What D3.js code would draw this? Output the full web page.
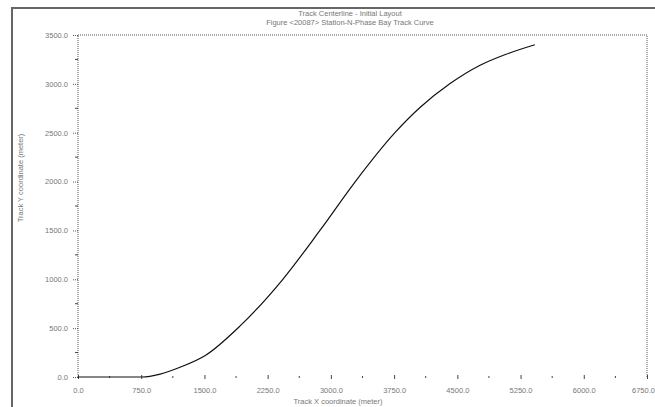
<!DOCTYPE html>
<html>
<head>
<meta charset="utf-8">
<script src="https://cdn.jsdelivr.net/npm/d3@7"></script>
<style>
  body { margin: 0; background: #fff; }
  svg { display: block; }
  text { font-family: "Liberation Sans", Arial, sans-serif; }
</style>
</head>
<body>
<div id="chart"></div>
<script>
// centerline points (meter)
var trackX = [0, 380, 760, 975, 1210, 1510, 1920, 2430, 2870, 3290, 3760, 4060, 4410, 4770, 5070, 5420];
var trackY = [0, 0, 0, 30, 100, 220, 520, 1000, 1500, 2000, 2500, 2760, 3000, 3190, 3300, 3400];

var xTicks = [0, 750, 1500, 2250, 3000, 3750, 4500, 5250, 6000, 6750];
var yTicks = [0, 500, 1000, 1500, 2000, 2500, 3000, 3500];

var titleLines = ["Track Centerline - Initial Layout", "Figure <20087> Station-N-Phase Bay Track Curve"];
var xTitle = "Track X coordinate (meter)";
var yTitle = "Track Y coordinate (meter)";

var width = 655, height = 407;
var plotL = 78, plotR = 647, plotT = 35, plotB = 377;

var svg = d3.select("#chart").append("svg")
    .attr("width", width)
    .attr("height", height);

// outer frame (only top and left edges show in the window)
svg.append("path")
    .attr("d", "M12," + height + "V8H" + width)
    .attr("fill", "none")
    .attr("stroke", "#666")
    .attr("stroke-width", 2);

var x = d3.scaleLinear().domain([0, 6750]).range([plotL, plotR]);
var y = d3.scaleLinear().domain([0, 3500]).range([plotB, plotT]);

var fmt = d => d.toFixed(1);

// dotted plot box: left, top, right
svg.append("path")
    .attr("d", "M" + plotL + "," + plotB + "V" + plotT + "H" + plotR + "V" + plotB)
    .attr("fill", "none")
    .attr("stroke", "#555")
    .attr("stroke-dasharray", "1,1");

// x axis
var xAxis = svg.append("g")
    .attr("transform", "translate(0," + plotB + ")")
    .call(d3.axisBottom(x).tickValues(xTicks).tickFormat(fmt).tickSize(3).tickPadding(8));
xAxis.select(".domain").remove();
xAxis.selectAll(".tick line").attr("stroke", "#444").attr("y1", -2).attr("y2", 2);
xAxis.selectAll("text").attr("fill", "#777").style("font-size", "7.5px");
// keep the last label inside the window
xAxis.selectAll(".tick text").filter(d => d === 6750).attr("dx", -4);

// minor x ticks
svg.selectAll(".xminor")
    .data(xTicks.slice(0, -1).map(d => d + 375))
    .enter().append("line")
    .attr("x1", d => x(d)).attr("x2", d => x(d))
    .attr("y1", plotB - 1).attr("y2", plotB + 1)
    .attr("stroke", "#444");

// y axis
var yAxis = svg.append("g")
    .attr("transform", "translate(" + plotL + ",0)")
    .call(d3.axisLeft(y).tickValues(yTicks).tickFormat(fmt).tickSize(6).tickPadding(4));
yAxis.select(".domain").remove();
yAxis.selectAll(".tick line").attr("stroke", "#555").attr("stroke-dasharray", "1,1");
yAxis.selectAll("text").attr("fill", "#777").style("font-size", "7.5px");

// minor y ticks
svg.selectAll(".yminor")
    .data(yTicks.slice(0, -1).map(d => d + 250))
    .enter().append("line")
    .attr("x1", plotL - 3).attr("x2", plotL)
    .attr("y1", d => y(d)).attr("y2", d => y(d))
    .attr("stroke", "#444");

// the curve
var line = d3.line()
    .x((d, i) => x(trackX[i]))
    .y(d => y(d))
    .curve(d3.curveMonotoneX);

svg.append("path")
    .datum(trackY)
    .attr("d", line)
    .attr("fill", "none")
    .attr("stroke", "#111")
    .attr("stroke-width", 1.2);

// titles
svg.selectAll(".title")
    .data(titleLines)
    .enter().append("text")
    .attr("x", 350)
    .attr("y", (d, i) => 16 + i * 9)
    .attr("text-anchor", "middle")
    .attr("fill", "#777")
    .style("font-size", "7.5px")
    .text(d => d);

svg.append("text")
    .attr("x", 338)
    .attr("y", 404)
    .attr("text-anchor", "middle")
    .attr("fill", "#777")
    .style("font-size", "7.5px")
    .text(xTitle);

svg.append("text")
    .attr("transform", "translate(23,178) rotate(-90)")
    .attr("text-anchor", "middle")
    .attr("fill", "#777")
    .style("font-size", "7.5px")
    .text(yTitle);
</script>
</body>
</html>
